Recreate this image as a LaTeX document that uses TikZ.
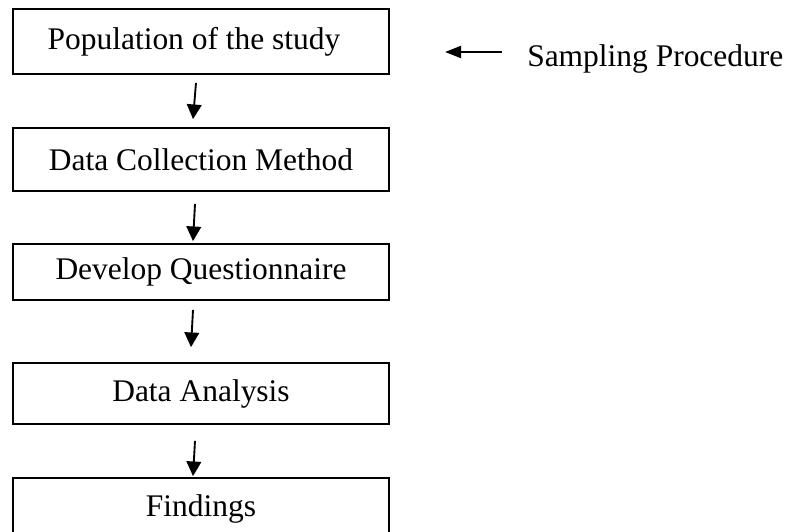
\documentclass[tikz,border=0pt]{standalone}
\usepackage{fontspec}
\setmainfont{Liberation Serif}
\usetikzlibrary{arrows.meta,calc}
\begin{document}
\begin{tikzpicture}[x=0.75pt,y=-0.75pt,
  box/.style={draw,line width=1.3pt,minimum width=282pt,inner sep=0pt,font=\fontsize{23.6}{28}\selectfont},
  flow/.style={line width=1.4pt,-{Triangle[length=11pt,width=11pt]}},
  sideflow/.style={line width=1.4pt,-{Triangle[length=12pt,width=9pt]}},
  lbl/.style={inner sep=0pt,font=\fontsize{23.6}{28}\selectfont}]
\useasboundingbox (0,0) rectangle (791,531);
\clip (0,0) rectangle (791,531);
\node[box,minimum height=48.75pt] (b1) at (201,41.5) {Population of the study\hspace*{10.5pt}};
\node[box,minimum height=47.25pt] (b2) at (201,159.5) {Data Collection Method};
\node[box,minimum height=42pt] (b3) at (201,272) {Develop Questionnaire};
\node[box,minimum height=45.75pt] (b4) at (201,393.5) {Data Analysis};
\node[box,minimum height=46.5pt] (b5) at (201,509) {Findings};
\node[lbl,anchor=base west] (samp) at (527,67) {Sampling Procedure};
\draw[flow] ($(b1.south)+(-5,8)$) -- ($(b2.north)+(-8,-8)$);
\draw[flow] ($(b2.south)+(-6,12)$) -- ($(b3.north)+(-8,-2)$);
\draw[flow] ($(b3.south)+(-8,9)$) -- ($(b4.north)+(-10,-15)$);
\draw[flow] ($(b4.south)+(-6,16)$) -- ($(b5.north)+(-8,-1)$);
\draw[sideflow] ($(samp.base west)+(-25,-15)$) -- ($(samp.base west)+(-82,-15)$);
\end{tikzpicture}
\end{document}
